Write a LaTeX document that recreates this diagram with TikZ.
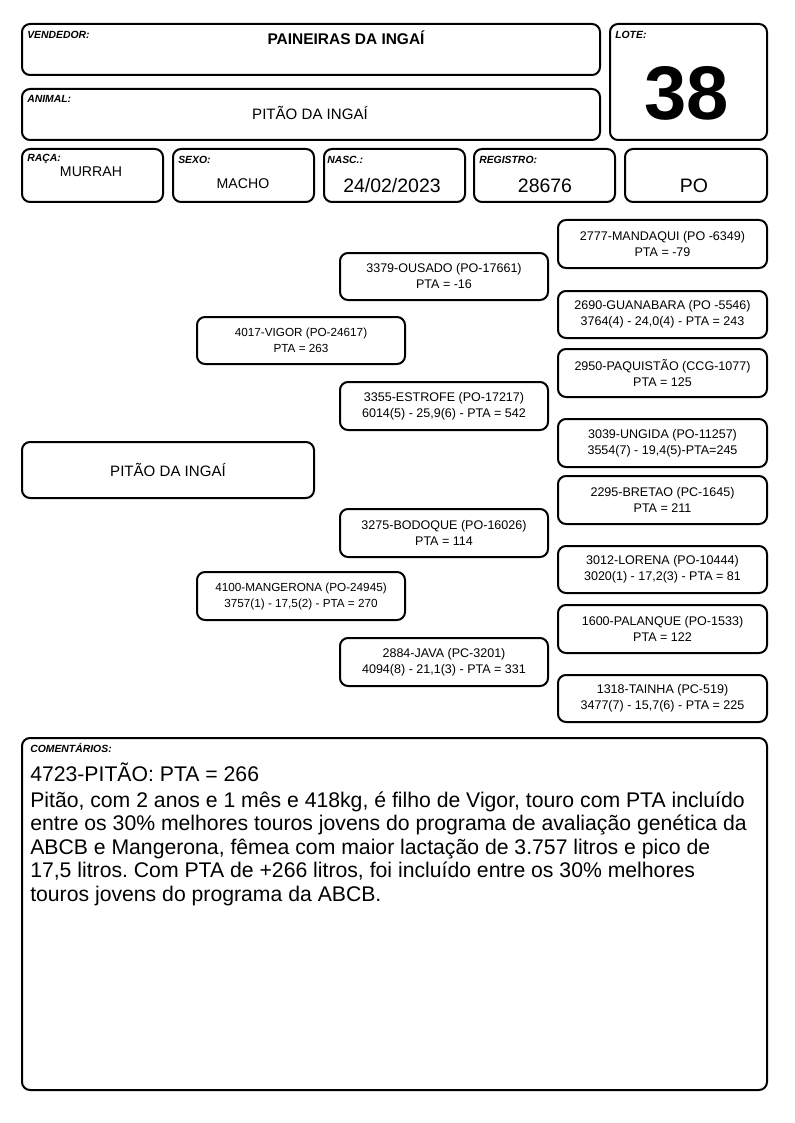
\documentclass[tikz,border=0pt]{standalone}
\usepackage{fontspec}
\setmainfont{Liberation Sans}
\usetikzlibrary{positioning}
\tikzset{
    card/.style 2 args={draw, line width=1.5pt, rounded corners=6pt, anchor=north west,
        inner sep=0pt, minimum width=#1*0.75pt, minimum height=#2*0.75pt},
    tag/.style={font=\fontsize{7.8}{9}\selectfont\bfseries\itshape, anchor=west, inner sep=0pt},
    ped/.style={align=center, font=\fontsize{9.4}{12}\selectfont},
    pedsmall/.style={align=center, font=\fontsize{8.8}{12}\selectfont},
    val/.style={font=\fontsize{10.6}{12}\selectfont, inner sep=0pt},
    bigval/.style={font=\fontsize{14.6}{16}\selectfont, inner sep=0pt},
}
\frenchspacing

\begin{document}
\begin{tikzpicture}[x=0.75pt,y=-0.75pt]
\useasboundingbox (0,0) rectangle (794,1123);
% cabecalho
\node[card={578}{51}] (vend) at (21,23) {};
\node[tag] (vendtag) at (27,35) {VENDEDOR:};
\node[font=\fontsize{11.6}{13}\selectfont\bfseries, inner sep=0pt] (vendval) at (346,38) {PAINEIRAS DA INGAÍ};
\node[card={578}{51}] (anim) at (21,88) {};
\node[tag] (animtag) at (27,99) {ANIMAL:};
\node[font=\fontsize{11.3}{13}\selectfont, inner sep=0pt] (animval) at (310,113) {PITÃO DA INGAÍ};
\node[card={157}{116}] (lote) at (609,23) {};
\node[tag] (lotetag) at (615,35) {LOTE:};
\node[font=\fontsize{57}{60}\selectfont\bfseries, inner sep=0pt] (loteval) at (687,93) {38};

\node[card={141}{53}] (raca) at (21,148) {};
\node[tag] (racatag) at (27,159) {RAÇA:};
\node[val] (racaval) at (91,172) {MURRAH};
\node[card={141}{53}] (sexo) at (172,148) {};
\node[tag] (sexotag) at (178,160) {SEXO:};
\node[val] (sexoval) at (243,184) {MACHO};
\node[card={141}{53}] (nasc) at (323,148) {};
\node[tag] (nasctag) at (327,160) {NASC.:};
\node[bigval] (nascval) at (392,186) {24/02/2023};
\node[card={141}{53}] (reg) at (473,148) {};
\node[tag] (regtag) at (479,160) {REGISTRO:};
\node[bigval] (regval) at (545,186) {28676};
\node[card={142}{53}] (cat) at (624,148) {};
\node[bigval] (catval) at (694,186) {PO};

% genealogia
\node[card={292}{56}, font=\fontsize{11.3}{13}\selectfont] (pitao) at (21,441) {PITÃO DA INGAÍ};
\node[card={208}{47}, pedsmall] (vigor) at (196,316) {4017-VIGOR (PO-24617)\\PTA = 263};
\node[card={208}{48}, pedsmall] (mangerona) at (196,571) {4100-MANGERONA (PO-24945)\\3757(1) - 17,5(2) - PTA = 270};

\node[card={208}{47}, ped] (ousado) at (339,252) {3379-OUSADO (PO-17661)\\PTA = -16};
\node[card={208}{48}, ped] (estrofe) at (339,381) {3355-ESTROFE (PO-17217)\\6014(5) - 25,9(6) - PTA = 542};
\node[card={208}{48}, ped] (bodoque) at (339,508) {3275-BODOQUE (PO-16026)\\PTA = 114};
\node[card={208}{48}, ped] (java) at (339,637) {2884-JAVA (PC-3201)\\4094(8) - 21,1(3) - PTA = 331};

\node[card={209}{48}, ped] (mandaqui) at (557,219) {2777-MANDAQUI (PO -6349)\\PTA = -79};
\node[card={209}{47}, ped] (guanabara) at (557,290) {2690-GUANABARA (PO -5546)\\3764(4) - 24,0(4) - PTA = 243};
\node[card={209}{48}, ped] (paquistao) at (557,348) {2950-PAQUISTÃO (CCG-1077)\\PTA = 125};
\node[card={209}{48}, ped] (ungida) at (557,418) {3039-UNGIDA (PO-11257)\\3554(7) - 19,4(5)-PTA=245};
\node[card={209}{48}, ped] (bretao) at (557,475) {2295-BRETAO (PC-1645)\\PTA = 211};
\node[card={209}{47}, ped] (lorena) at (557,545) {3012-LORENA (PO-10444)\\3020(1) - 17,2(3) - PTA = 81};
\node[card={209}{48}, ped] (palanque) at (557,604) {1600-PALANQUE (PO-1533)\\PTA = 122};
\node[card={209}{47}, ped] (tainha) at (557,674) {1318-TAINHA (PC-519)\\3477(7) - 15,7(6) - PTA = 225};

% comentarios
\node[card={745}{352}] (coment) at (21,737) {};
\node[tag] (comenttag) at (30,748) {COMENTÁRIOS:};
\node[anchor=north west, inner sep=0pt, align=left, font=\fontsize{15.9}{17.6}\selectfont] (comenttxt) at (30,763)
  {4723-PITÃO: PTA = 266\\[1.5pt]
   Pitão, com 2 anos e 1 mês e 418kg, é filho de Vigor, touro com PTA incluído\\
   entre os 30\% melhores touros jovens do programa de avaliação genética da\\
   ABCB e Mangerona, fêmea com maior lactação de 3.757 litros e pico de\\
   17,5 litros. Com PTA de +266 litros, foi incluído entre os 30\% melhores\\
   touros jovens do programa da ABCB.};
\end{tikzpicture}
\end{document}
